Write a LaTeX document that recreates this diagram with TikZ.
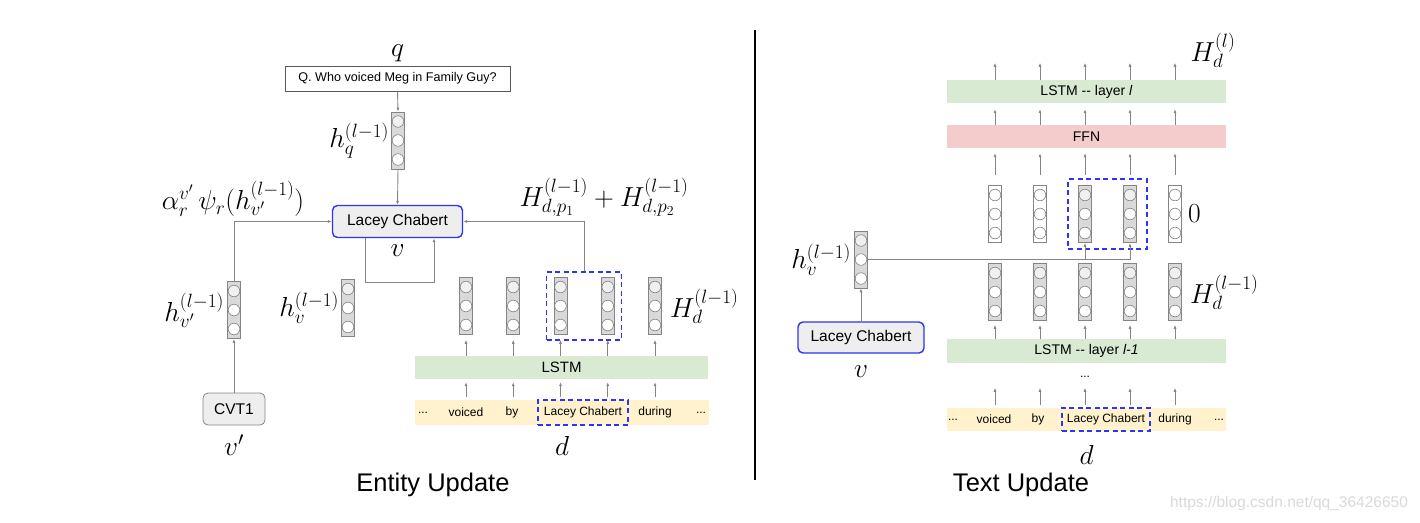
\RequirePackage{fix-cm}
\documentclass[tikz,border=0pt]{standalone}
\usepackage[no-math]{fontspec}
\setmainfont{Liberation Sans}
\usepackage{tikz}
\usetikzlibrary{arrows.meta, positioning, fit, calc}
\usepackage{xcolor}
\definecolor{lstmgreen}{HTML}{D9EAD3}
\definecolor{ffnred}{HTML}{F4CCCC}
\definecolor{tokyellow}{HTML}{FFF2CC}
\definecolor{entblue}{HTML}{2B35F5}
\definecolor{boxgray}{HTML}{EEEEEE}
\definecolor{vecgray}{HTML}{D9D9D9}
\definecolor{linegray}{HTML}{858585}

\begin{document}
\begin{tikzpicture}[x=1pt, y=-1pt, >={Latex[length=4pt,width=3pt]},
  conn/.style={draw=linegray, line width=0.9pt},
  arr/.style={->, draw=linegray, line width=0.7pt},
  lbl/.style={font=\fontsize{27.5}{30}\selectfont, inner sep=2pt},
  title/.style={font=\fontsize{25.5}{29}\selectfont},
  bar/.style={minimum width=279pt, minimum height=23pt, inner sep=0pt, font=\fontsize{14}{16}\selectfont},
  tok/.style={font=\fontsize{12}{14}\selectfont, inner sep=1pt},
  selbox/.style={draw=entblue, dashed, dash pattern=on 5pt off 3.5pt, line width=1.6pt},
  entbox/.style={draw=entblue, line width=1.4pt, fill=boxgray, rounded corners=5pt, minimum width=130pt, minimum height=32pt, font=\fontsize{15.5}{18}\selectfont},
  vecbase/.style={draw=linegray, line width=0.7pt, minimum width=13pt, minimum height=57pt, inner sep=0pt},
  vecg/.style={vecbase, fill=vecgray, path picture={
    \draw[linegray, line width=0.6pt, fill=gray!12] ([yshift=19pt]path picture bounding box.center) circle (5.8pt);
    \foreach \k in {0,-19} \draw[linegray, line width=0.6pt, fill=white] ([yshift=\k pt]path picture bounding box.center) circle (5.8pt);}},
  vecw/.style={vecbase, fill=white, path picture={
    \foreach \k in {19,0,-19} \draw[linegray, line width=0.6pt, fill=white] ([yshift=\k pt]path picture bounding box.center) circle (5.8pt);}}]
\useasboundingbox (0,0) rectangle (1420,522);

% Entity update
\node[draw=gray!70!black, line width=0.8pt, minimum width=225pt, minimum height=25pt, font=\fontsize{12.6}{15}\selectfont] (qbox) at (397.5,78.5) {Q. Who voiced Meg in Family Guy?};
\node[lbl, above=2pt of qbox] (ql) {$q$};
\node[vecg] (hq) at (398,140.5) {};
\node[lbl, left=0pt of hq] (hql) {$h_q^{(l-1)}$};
\node[entbox] (ent) at (397.5,221.5) {Lacey Chabert};
\node[lbl, below=4pt of ent] (entl) {$v$};

\node[vecg] (hvp) at (234,310) {};
\node[lbl, left=1pt of hvp] (hvpl) {$h_{v'}^{(l-1)}$};
\node[draw=linegray, line width=0.8pt, fill=boxgray, rounded corners=5pt, minimum width=62pt, minimum height=32pt, font=\fontsize{15.5}{18}\selectfont] (cvt) at (234,409) {CVT1};
\node[lbl, below=7pt of cvt] (cvtl) {$v'$};
\node[lbl] (msgl) at (233,199) {$\alpha_r^{v'}\,\psi_r(h_{v'}^{(l-1)})$};

\node[vecg] (hv) at (348,308) {};
\node[lbl, left=0pt of hv] (hvl) {$h_v^{(l-1)}$};

\foreach \x [count=\i] in {466,513.25,560.5,607.75,655}
  \node[vecg] (d\i) at (\x,306) {};
\node[lbl, right=6pt of d5] (dl) {$H_d^{(l-1)}$};
\node[selbox, fit=(d3)(d4), inner xsep=7pt, inner ysep=5pt] (selL) {};
\node[lbl] (spanl) at (604,197) {$H_{d,p_1}^{(l-1)}+H_{d,p_2}^{(l-1)}$};

\node[bar, fill=lstmgreen, minimum width=293pt, font=\fontsize{15}{17}\selectfont] (lstmL) at (561.5,367.5) {LSTM};
\node[bar, fill=tokyellow, minimum width=294pt, minimum height=25pt] (tokL) at (562,412.5) {};
\node[tok] (wL1) at (423,413) {...};
\node[tok] (wL2) at (466,412.5) {voiced};
\node[tok] (wL3) at (512,412.5) {by};
\node[tok, selbox, minimum height=25pt, inner xsep=6pt] (wL4) at (583,412.5) {Lacey Chabert};
\node[tok] (wL5) at (655,412.5) {during};
\node[tok] (wL6) at (701,413) {...};
\node[lbl, below=9pt of tokL] (docl) {$d$};

\draw[conn, ->] (qbox.south) -- (hq.north);
\draw[conn, ->] (hq.south) -- (ent.north);
\draw[conn, ->] (hvp.north) |- (ent.west);
\draw[conn, ->] (selL.north) |- (ent.east);
\draw[conn, ->] (cvt.north) -- (hvp.south);
\draw[conn, ->] ([xshift=-32.5pt]ent.south) -- ++(0,44) -| ([xshift=36.5pt]ent.south);
\foreach \i in {1,...,5} {
  \draw[arr] (d\i |- lstmL.north) -- ([yshift=-5pt]d\i.south);
  \draw[arr, shorten <=3pt, shorten >=3pt] (d\i |- tokL.north) -- (d\i |- lstmL.south);
}
\node[title] (entT) at (433,485) {Entity Update};

% divider
\draw[line width=2pt] (755,30) -- (755,480);

% Text update
\node[bar, fill=lstmgreen] (lstmT) at (1086.5,91.5) {LSTM -{}- layer \textit{l}};
\node[bar, fill=ffnred] (ffn) at (1086.5,136.5) {FFN};
\node[vecw] (t1) at (995,214) {};
\node[vecw] (t2) at (1040,214) {};
\node[vecg] (t3) at (1085,214) {};
\node[vecg] (t4) at (1130,214) {};
\node[vecw] (t5) at (1175,214) {};
\node[lbl, right=4pt of t5] (zl) {$0$};
\node[selbox, fit=(t3)(t4), inner xsep=10pt, inner ysep=6pt] (selR) {};
\node[lbl] (outl) at (1213,50) {$H_d^{(l)}$};

\node[vecg] (hv2) at (861,259.5) {};
\node[lbl, left=1pt of hv2] (hv2l) {$h_v^{(l-1)}$};
\node[entbox, minimum width=126pt, minimum height=31pt] (ent2) at (861,337.5) {Lacey Chabert};
\node[lbl, below=10pt of ent2] (ent2l) {$v$};

\foreach \x [count=\i] in {995,1040,1085,1130,1175}
  \node[vecg] (b\i) at (\x,292) {};
\node[lbl, right=6pt of b5] (bl) {$H_d^{(l-1)}$};
\node[bar, fill=lstmgreen, minimum height=24pt] (lstmB) at (1086.5,351) {LSTM -{}- layer \textit{l-1}};
\node[tok] (dots) at (1085,377) {...};
\node[bar, fill=tokyellow] (tokR) at (1086.5,419.5) {};
\node[tok] (wR1) at (953,420) {...};
\node[tok] (wR2) at (994,419.5) {voiced};
\node[tok] (wR3) at (1038,419.5) {by};
\node[tok, selbox, minimum height=23pt, inner xsep=5pt] (wR4) at (1106,419.5) {Lacey Chabert};
\node[tok] (wR5) at (1175,419.5) {during};
\node[tok] (wR6) at (1219,420) {...};
\node[lbl, below=12pt of tokR] (doc2l) {$d$};

\draw[conn, ->] (ent2.north) -- (hv2.south);
\draw[conn, ->] (hv2.east) -| (t4.south);
\draw[conn, ->] (t3 |- hv2.east) -- (t3.south);
\foreach \i in {1,...,5} {
  \draw[arr] (t\i |- lstmT.north) -- ([yshift=17pt]t\i |- lstmT.north);
  \draw[arr, shorten >=6pt] (t\i |- ffn.north) -- (t\i |- lstmT.south);
  \draw[arr, shorten <=10pt, shorten >=5pt] (t\i.north) -- (t\i |- ffn.south);
  \draw[arr, shorten >=4pt] (b\i |- lstmB.north) -- (b\i.south);
  \draw[arr, shorten <=3pt] (b\i |- tokR.north) -- ([yshift=20pt]b\i |- tokR.north);
}
\node[title] (txtT) at (1021,485) {Text Update};
\node[font=\fontsize{15.5}{18}\selectfont, text=gray!30] (wm) at (1289,503) {https://blog.csdn.net/qq\_36426650};
\end{tikzpicture}
\end{document}
